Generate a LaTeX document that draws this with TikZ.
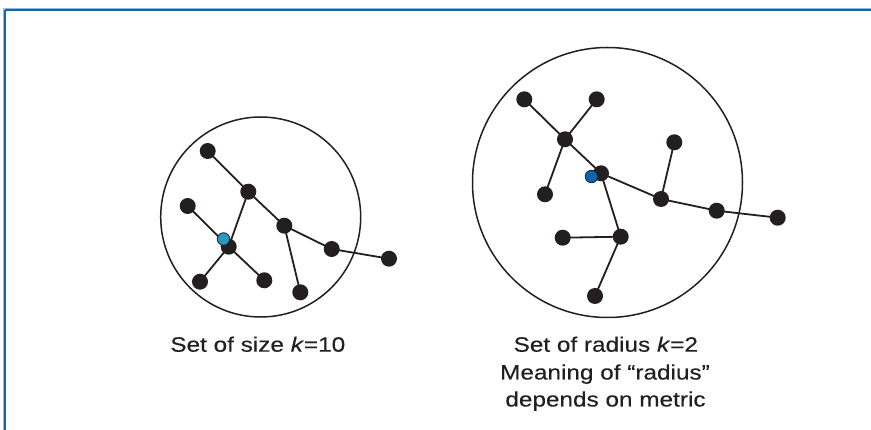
\documentclass[tikz,border=0pt]{standalone}
\usepackage{fontspec}
\setmainfont[FakeStretch=1.17,FakeBold=0.25]{Liberation Sans}
\usetikzlibrary{backgrounds}
\definecolor{dotblack}{HTML}{231F20}
\definecolor{frameblue}{HTML}{1565A8}
\definecolor{framelight}{HTML}{8DB8E0}
\definecolor{tealdot}{HTML}{2A97C2}
\definecolor{bluedot}{HTML}{0B66AF}
\tikzset{
  bdot/.style={circle,fill=dotblack,minimum size=16pt,inner sep=0pt},
  cdot/.style={circle,draw=dotblack,line width=0.8pt,minimum size=12.5pt,inner sep=0pt},
  edge/.style={draw=dotblack,line width=1.8pt},
  ring/.style={draw=dotblack,line width=1.5pt},
  lbl/.style={inner sep=0pt,anchor=base,font=\fontsize{20.8}{24}\selectfont,text=dotblack}
}
\begin{document}
\begin{tikzpicture}[x=1pt,y=-1pt]
\useasboundingbox (0,0) rectangle (871,430);
% frame
\draw[framelight,line width=1pt] (4,8.5) -- (871,8.5);
\draw[framelight,line width=1pt] (3.5,8.5) -- (3.5,430);
\draw[frameblue,line width=1.6pt] (5,10) -- (871,10);
\draw[frameblue,line width=1.6pt] (5,10) -- (5,430);
% circles
\draw[ring] (260.7,217) circle (100);
\draw[ring] (607.5,182.5) circle (135);
% left graph
\node[bdot] (A) at (207.7,151) {};
\node[bdot] (B) at (248.3,191.7) {};
\node[bdot] (C) at (187.7,206) {};
\node[bdot] (D) at (284.3,225.7) {};
\node[bdot] (E) at (228.7,246.7) {};
\node[bdot] (F) at (331.7,249) {};
\node[bdot] (G) at (389,258.7) {};
\node[bdot] (H) at (200,281.7) {};
\node[bdot] (I) at (264.3,280.3) {};
\node[bdot] (J) at (300.3,292.3) {};
\node[cdot,fill=tealdot] (Lc) at (223.5,239) {};
% right graph
\node[bdot] (P1) at (524.3,99.3) {};
\node[bdot] (P2) at (596.7,99.3) {};
\node[bdot] (P3) at (565,139.3) {};
\node[bdot] (P4) at (674.3,142.3) {};
\node[bdot] (P5) at (601,173.3) {};
\node[bdot] (P6) at (545,194.3) {};
\node[bdot] (P7) at (661,199) {};
\node[bdot] (P8) at (716.7,210.7) {};
\node[bdot] (P9) at (777.7,217.7) {};
\node[bdot] (P10) at (562.7,237.7) {};
\node[bdot] (P11) at (620.7,236.7) {};
\node[bdot] (P12) at (595,296) {};
\node[cdot,fill=bluedot] (Rc) at (591.5,176.5) {};
\begin{scope}[on background layer]
\draw[edge] (A.center) -- (B.center);
\draw[edge] (B.center) -- (E.center);
\draw[edge] (C.center) -- (E.center);
\draw[edge] (E.center) -- (H.center);
\draw[edge] (E.center) -- (I.center);
\draw[edge] (B.center) -- (D.center);
\draw[edge] (D.center) -- (F.center);
\draw[edge] (F.center) -- (G.center);
\draw[edge] (D.center) -- (J.center);
\draw[edge] (P1.center) -- (P3.center);
\draw[edge] (P2.center) -- (P3.center);
\draw[edge] (P3.center) -- (P5.center);
\draw[edge] (P3.center) -- (P6.center);
\draw[edge] (P5.center) -- (P7.center);
\draw[edge] (P7.center) -- (P4.center);
\draw[edge] (P7.center) -- (P8.center);
\draw[edge] (P8.center) -- (P9.center);
\draw[edge] (P5.center) -- (P11.center);
\draw[edge] (P10.center) -- (P11.center);
\draw[edge] (P11.center) -- (P12.center);
\end{scope}
% labels
\node[lbl] (t1) at (257.8,351.7) {Set of size \textit{k}=10};
\node[lbl] (r1) at (605.8,351.7) {Set of radius \textit{k}=2};
\node[lbl] (r2) at (605,379.5) {Meaning of “radius”};
\node[lbl] (r3) at (605.5,406.5) {depends on metric};
\end{tikzpicture}
\end{document}
